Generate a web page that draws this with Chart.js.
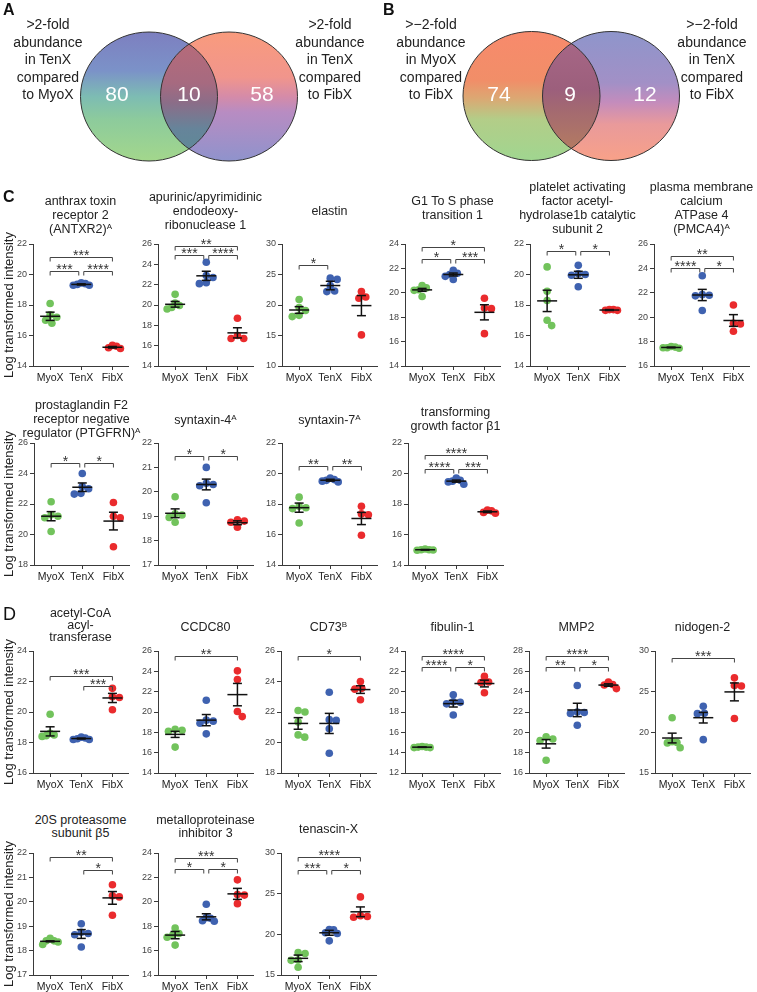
<!DOCTYPE html>
<html><head><meta charset="utf-8">
<script src="https://cdn.jsdelivr.net/npm/chart.js@4.4.1/dist/chart.umd.min.js"></script>
<style>
html,body{margin:0;padding:0;background:#fff}
body{width:757px;height:992px;overflow:hidden;position:relative;font-family:'Liberation Sans',Arial,Helvetica,sans-serif;color:#222}
canvas{position:absolute}
.title{position:absolute;text-align:center;font-size:12.5px;white-space:nowrap;color:#222}
.letter{position:absolute;font-weight:bold;font-size:16px;line-height:16px;color:#111}
.vlab{position:absolute;text-align:center;font-size:14px;line-height:17.5px;white-space:nowrap;color:#222;width:100px}
.vnum{position:absolute;text-align:center;font-size:21px;line-height:21px;color:#fff;width:40px}
.ytitle{position:absolute;width:200px;text-align:center;font-size:13px;line-height:16px;white-space:nowrap;transform:rotate(-90deg);color:#222}
sup{font-size:8px;line-height:0;vertical-align:4px}
</style></head><body>
<script>
// ---------------- DATA ----------------
const categories = ['MyoX', 'TenX', 'FibX'];

// Venn diagrams
const vennACounts = [80, 10, 58];
const vennBCounts = [74, 9, 12];
const vennALeftLabel = ['>2-fold', 'abundance', 'in TenX', 'compared', 'to MyoX'];
const vennARightLabel = ['>2-fold', 'abundance', 'in TenX', 'compared', 'to FibX'];
const vennBLeftLabel = ['>\u22122-fold', 'abundance', 'in MyoX', 'compared', 'to FibX'];
const vennBRightLabel = ['>\u22122-fold', 'abundance', 'in TenX', 'compared', 'to FibX'];

// Panel C
const antxr2 = [[18.1, 17.35, 17.2, 17.0, 16.8], [19.45, 19.4, 19.35, 19.3, 19.3], [15.35, 15.3, 15.2, 15.15]];
const antxr2Mean = [17.26, 19.35, 15.23];
const antxr2Sem = [0.27, 0.04, 0.05];
const antxr2Sig = [[0, 2, '***', 21.16], [0, 1, '***', 20.22], [1, 2, '****', 20.22]];
const antxr2Ticks = [14, 16, 18, 20, 22];

const apex1 = [[21.05, 20.2, 19.95, 19.75, 19.6], [24.2, 22.9, 22.7, 22.1, 22.2], [18.7, 17.0, 16.7, 16.7]];
const apex1Mean = [20.07, 22.87, 17.26];
const apex1Sem = [0.28, 0.45, 0.5];
const apex1Sig = [[0, 2, '**', 25.77], [0, 1, '***', 24.94], [1, 2, '****', 24.94]];
const apex1Ticks = [14, 16, 18, 20, 22, 24, 26];

const elastin = [[20.9, 19.6, 19.1, 18.3, 18.1], [24.4, 24.2, 23.2, 22.3, 22.2], [22.2, 21.3, 21.1, 15.1]];
const elastinMean = [19.18, 23.19, 19.9];
const elastinSem = [0.55, 0.7, 1.65];
const elastinSig = [[0, 1, '*', 26.6]];
const elastinTicks = [10, 15, 20, 25, 30];

const g1s = [[20.6, 20.4, 20.25, 20.2, 19.7], [21.85, 21.6, 21.5, 21.35, 21.1], [19.55, 18.75, 18.7, 16.65]];
const g1sMean = [20.24, 21.5, 18.4];
const g1sSem = [0.12, 0.12, 0.62];
const g1sSig = [[0, 2, '*', 23.75], [0, 1, '*', 22.76], [1, 2, '***', 22.76]];
const g1sTicks = [14, 16, 18, 20, 22, 24];

const pafah = [[20.5, 18.9, 18.3, 17.0, 16.65], [20.6, 20.05, 20.0, 19.95, 19.2], [17.7, 17.65, 17.65, 17.7]];
const pafahMean = [18.27, 19.98, 17.67];
const pafahSem = [0.7, 0.23, 0.03];
const pafahSig = [[0, 1, '*', 21.52], [1, 2, '*', 21.52]];
const pafahTicks = [14, 16, 18, 20, 22];

const pmca4 = [[17.6, 17.55, 17.5, 17.5, 17.45], [23.4, 21.85, 21.8, 21.75, 20.55], [21.0, 19.5, 19.45, 18.85]];
const pmca4Mean = [17.52, 21.82, 19.73];
const pmca4Sem = [0.03, 0.46, 0.48];
const pmca4Sig = [[0, 2, '**', 25.04], [0, 1, '****', 24.02], [1, 2, '*', 24.02]];
const pmca4Ticks = [16, 18, 20, 22, 24, 26];

const ptgfrn = [[22.15, 21.3, 21.2, 21.1, 20.2], [24.0, 23.15, 23.0, 22.7, 22.65], [22.1, 21.2, 21.1, 19.2]];
const ptgfrnMean = [21.2, 23.1, 20.88];
const ptgfrnSem = [0.3, 0.28, 0.58];
const ptgfrnSig = [[0, 1, '*', 24.68], [1, 2, '*', 24.68]];
const ptgfrnTicks = [18, 20, 22, 24, 26];

const stx4 = [[19.8, 19.1, 19.05, 18.95, 18.75], [21.0, 20.35, 20.3, 20.25, 19.55], [18.85, 18.8, 18.75, 18.55]];
const stx4Mean = [19.12, 20.3, 18.73];
const stx4Sem = [0.18, 0.22, 0.08];
const stx4Sig = [[0, 1, '*', 21.48], [1, 2, '*', 21.48]];
const stx4Ticks = [17, 18, 19, 20, 21, 22];

const stx7 = [[18.45, 17.85, 17.75, 17.7, 16.75], [19.7, 19.6, 19.55, 19.5, 19.45], [17.85, 17.35, 17.3, 15.95]];
const stx7Mean = [17.76, 19.56, 17.05];
const stx7Sem = [0.3, 0.06, 0.4];
const stx7Sig = [[0, 1, '**', 20.46], [1, 2, '**', 20.46]];
const stx7Ticks = [14, 16, 18, 20, 22];

const tgfb1 = [[15.05, 15.0, 15.0, 14.98, 14.97], [19.7, 19.55, 19.5, 19.45, 19.3], [17.6, 17.55, 17.45, 17.4]];
const tgfb1Mean = [15.0, 19.5, 17.49];
const tgfb1Sem = [0.02, 0.07, 0.05];
const tgfb1Sig = [[0, 2, '****', 21.23], [0, 1, '****', 20.29], [1, 2, '***', 20.29]];
const tgfb1Ticks = [14, 16, 18, 20, 22];

// Panel D
const acaa = [[19.85, 18.6, 18.5, 18.45, 18.4], [18.35, 18.3, 18.25, 18.2, 18.2], [21.55, 21.0, 20.95, 20.15]];
const acaaMean = [18.73, 18.26, 20.92];
const acaaSem = [0.3, 0.03, 0.3];
const acaaSig = [[0, 2, '***', 22.35], [1, 2, '***', 21.69]];
const acaaTicks = [16, 18, 20, 22, 24];

const ccdc80 = [[18.3, 18.2, 18.1, 16.55], [21.15, 19.2, 19.1, 18.9, 17.85], [24.05, 23.2, 20.05, 19.55]];
const ccdc80Mean = [17.8, 19.2, 21.71];
const ccdc80Sem = [0.3, 0.55, 1.1];
const ccdc80Sig = [[0, 2, '**', 25.5]];
const ccdc80Ticks = [14, 16, 18, 20, 22, 24, 26];

const cd73 = [[22.1, 22.0, 21.35, 20.5, 20.35], [23.3, 21.5, 21.45, 20.9, 19.3], [24.0, 23.55, 23.5, 22.8]];
const cd73Mean = [21.25, 21.25, 23.47];
const cd73Sem = [0.38, 0.66, 0.25];
const cd73Sig = [[0, 2, '*', 25.67]];
const cd73Ticks = [18, 20, 22, 24, 26];

const fbln1 = [[14.6, 14.55, 14.55, 14.5, 14.5], [19.7, 19.0, 18.95, 18.8, 17.7], [21.5, 20.95, 20.9, 19.9]];
const fbln1Mean = [14.54, 18.82, 20.8];
const fbln1Sem = [0.02, 0.33, 0.33];
const fbln1Sig = [[0, 2, '****', 23.5], [0, 1, '****', 22.45], [1, 2, '*', 22.45]];
const fbln1Ticks = [12, 14, 16, 18, 20, 22, 24];

const mmp2 = [[19.55, 19.35, 19.2, 17.25], [24.6, 22.0, 21.95, 21.85, 20.7], [24.95, 24.7, 24.65, 24.3]];
const mmp2Mean = [18.87, 22.2, 24.65];
const mmp2Sem = [0.42, 0.66, 0.12];
const mmp2Sig = [[0, 2, '****', 27.5], [0, 1, '**', 26.45], [1, 2, '*', 26.45]];
const mmp2Ticks = [16, 18, 20, 22, 24, 26, 28];

const nid2 = [[21.8, 18.85, 18.75, 18.7, 18.1], [23.2, 22.35, 22.3, 19.1], [26.7, 25.75, 25.7, 21.7]];
const nid2Mean = [19.3, 21.8, 24.97];
const nid2Sem = [0.6, 0.65, 1.1];
const nid2Sig = [[0, 2, '***', 29.18]];
const nid2Ticks = [15, 20, 25, 30];

const psmb5 = [[18.5, 18.4, 18.4, 18.35, 18.25], [19.1, 18.75, 18.7, 18.65, 18.15], [20.7, 20.25, 20.2, 19.45]];
const psmb5Mean = [18.38, 18.68, 20.16];
const psmb5Sem = [0.02, 0.18, 0.26];
const psmb5Sig = [[0, 2, '**', 21.84], [1, 2, '*', 21.32]];
const psmb5Ticks = [17, 18, 19, 20, 21, 22];

const timp3 = [[17.85, 17.4, 17.3, 17.1, 16.45], [19.8, 18.7, 18.65, 18.45, 18.4], [21.8, 20.6, 20.55, 19.85]];
const timp3Mean = [17.27, 18.77, 20.65];
const timp3Sem = [0.3, 0.25, 0.45];
const timp3Sig = [[0, 2, '***', 23.62], [0, 1, '*', 22.72], [1, 2, '*', 22.72]];
const timp3Ticks = [14, 16, 18, 20, 22, 24];

const tnxb = [[17.75, 17.65, 16.85, 16.8, 15.95], [20.6, 20.55, 20.2, 20.1, 19.2], [24.6, 22.3, 22.2, 22.1]];
const tnxbMean = [17.05, 20.19, 22.77];
const tnxbSem = [0.4, 0.3, 0.6];
const tnxbSig = [[0, 2, '****', 29.51], [0, 1, '***', 27.87], [1, 2, '*', 27.87]];
const tnxbTicks = [15, 20, 25, 30];

// ---------------- LAYOUT / STYLE ----------------
const FONT = "'Liberation Sans', Arial, Helvetica, sans-serif";
Chart.defaults.font.family = FONT;
const GROUP_COLORS = ['#72c35c', '#3f62b0', '#ea2b2d'];
const PLOT_W = 95, PLOT_H = 122, PAD_TOP = 12, YAX_W = 30, XAX_H = 20, PAD_R = 6;

const plots = [
  {v: antxr2, m: antxr2Mean, s: antxr2Sem, sig: antxr2Sig, t: antxr2Ticks, title: ['anthrax toxin', 'receptor 2', '(ANTXR2)<sup>A</sup>'], ax: 33, top: 244, ty: 201, lh: 14},
  {v: apex1, m: apex1Mean, s: apex1Sem, sig: apex1Sig, t: apex1Ticks, title: ['apurinic/apyrimidinic', 'endodeoxy-', 'ribonuclease 1'], ax: 158, top: 244, ty: 197, lh: 14},
  {v: elastin, m: elastinMean, s: elastinSem, sig: elastinSig, t: elastinTicks, title: ['elastin'], ax: 282, top: 244, ty: 211, lh: 14},
  {v: g1s, m: g1sMean, s: g1sSem, sig: g1sSig, t: g1sTicks, title: ['G1 To S phase', 'transition 1'], ax: 405, top: 244, ty: 201, lh: 14},
  {v: pafah, m: pafahMean, s: pafahSem, sig: pafahSig, t: pafahTicks, title: ['platelet activating', 'factor acetyl-', 'hydrolase1b catalytic', 'subunit 2'], ax: 530, top: 244, ty: 187, lh: 14},
  {v: pmca4, m: pmca4Mean, s: pmca4Sem, sig: pmca4Sig, t: pmca4Ticks, title: ['plasma membrane', 'calcium', 'ATPase 4', '(PMCA4)<sup>A</sup>'], ax: 654, top: 244, ty: 187, lh: 14},
  {v: ptgfrn, m: ptgfrnMean, s: ptgfrnSem, sig: ptgfrnSig, t: ptgfrnTicks, title: ['prostaglandin F2', 'receptor negative', 'regulator (PTGFRN)<sup>A</sup>'], ax: 34, top: 443, ty: 405, lh: 14},
  {v: stx4, m: stx4Mean, s: stx4Sem, sig: stx4Sig, t: stx4Ticks, title: ['syntaxin-4<sup>A</sup>'], ax: 158, top: 443, ty: 420, lh: 14},
  {v: stx7, m: stx7Mean, s: stx7Sem, sig: stx7Sig, t: stx7Ticks, title: ['syntaxin-7<sup>A</sup>'], ax: 282, top: 443, ty: 420, lh: 14},
  {v: tgfb1, m: tgfb1Mean, s: tgfb1Sem, sig: tgfb1Sig, t: tgfb1Ticks, title: ['transforming', 'growth factor \u03b21'], ax: 408, top: 443, ty: 412, lh: 14},
  {v: acaa, m: acaaMean, s: acaaSem, sig: acaaSig, t: acaaTicks, title: ['acetyl-CoA', 'acyl-', 'transferase'], ax: 33, top: 651, ty: 613, lh: 12},
  {v: ccdc80, m: ccdc80Mean, s: ccdc80Sem, sig: ccdc80Sig, t: ccdc80Ticks, title: ['CCDC80'], ax: 158, top: 651, ty: 627, lh: 14},
  {v: cd73, m: cd73Mean, s: cd73Sem, sig: cd73Sig, t: cd73Ticks, title: ['CD73<sup>B</sup>'], ax: 281, top: 651, ty: 627, lh: 14},
  {v: fbln1, m: fbln1Mean, s: fbln1Sem, sig: fbln1Sig, t: fbln1Ticks, title: ['fibulin-1'], ax: 405, top: 651, ty: 627, lh: 14},
  {v: mmp2, m: mmp2Mean, s: mmp2Sem, sig: mmp2Sig, t: mmp2Ticks, title: ['MMP2'], ax: 529, top: 651, ty: 627, lh: 14},
  {v: nid2, m: nid2Mean, s: nid2Sem, sig: nid2Sig, t: nid2Ticks, title: ['nidogen-2'], ax: 655, top: 651, ty: 627, lh: 14},
  {v: psmb5, m: psmb5Mean, s: psmb5Sem, sig: psmb5Sig, t: psmb5Ticks, title: ['20S proteasome', 'subunit \u03b25'], ax: 33, top: 853, ty: 820, lh: 13},
  {v: timp3, m: timp3Mean, s: timp3Sem, sig: timp3Sig, t: timp3Ticks, title: ['metalloproteinase', 'inhibitor 3'], ax: 158, top: 853, ty: 820, lh: 13},
  {v: tnxb, m: tnxbMean, s: tnxbSem, sig: tnxbSig, t: tnxbTicks, title: ['tenascin-X'], ax: 281, top: 853, ty: 829, lh: 14}
];

function addDiv(cls, html, left, top, extra) {
  const d = document.createElement('div');
  d.className = cls; d.innerHTML = html;
  d.style.left = left + 'px'; d.style.top = top + 'px';
  if (extra) Object.assign(d.style, extra);
  document.body.appendChild(d);
  return d;
}

// ---------------- PLUGINS ----------------
const errPlugin = {
  id: 'errbars',
  afterDatasetsDraw(chart) {
    const spec = chart.$spec; if (!spec) return;
    const ctx = chart.ctx, x = chart.scales.x, y = chart.scales.y;
    const seg = (a, b, c, d) => { ctx.beginPath(); ctx.moveTo(a, b); ctx.lineTo(c, d); ctx.stroke(); };
    ctx.save();
    ctx.strokeStyle = '#111'; ctx.lineWidth = 1.5; ctx.lineCap = 'butt';
    spec.m.forEach((m, g) => {
      const cx = x.getPixelForValue(g + 1);
      const ym = y.getPixelForValue(m), yt = y.getPixelForValue(m + spec.s[g]), yb = y.getPixelForValue(m - spec.s[g]);
      seg(cx - 10, ym, cx + 10, ym);
      seg(cx, yt, cx, yb);
      seg(cx - 4.5, yt, cx + 4.5, yt);
      seg(cx - 4.5, yb, cx + 4.5, yb);
    });
    ctx.strokeStyle = '#444'; ctx.lineWidth = 1; ctx.fillStyle = '#333';
    ctx.font = '14px ' + FONT; ctx.textAlign = 'center'; ctx.textBaseline = 'alphabetic';
    spec.sig.forEach(([a, b, stars, level]) => {
      let x1 = x.getPixelForValue(a + 1), x2 = x.getPixelForValue(b + 1);
      if (a === 1) x1 += 2.5;
      if (b === 1) x2 -= 2.5;
      const yl = Math.round(y.getPixelForValue(level)) + 0.5;
      ctx.beginPath(); ctx.moveTo(x1, yl + 4); ctx.lineTo(x1, yl); ctx.lineTo(x2, yl); ctx.lineTo(x2, yl + 4); ctx.stroke();
      ctx.fillText(stars, (x1 + x2) / 2, yl + 2.5);
    });
    ctx.restore();
  }
};

function swarm(chart, spec) {
  const x = chart.scales.x, y = chart.scales.y;
  const pxPerX = x.getPixelForValue(2) - x.getPixelForValue(1);
  const D = 7, LIM = 8;
  chart.data.datasets.forEach((ds, g) => {
    const vals = spec.v[g];
    const placed = [];
    const offs = new Array(vals.length).fill(0);
    const order = vals.map((v, i) => i).sort((a, b) => vals[b] - vals[a]);
    order.forEach(i => {
      const py = y.getPixelForValue(vals[i]);
      const cands = [0];
      placed.forEach(p => {
        const dy = Math.abs(p.py - py);
        if (dy < D) { const w = Math.sqrt(D * D - dy * dy); cands.push(p.dx + w, p.dx - w); }
      });
      cands.sort((a, b) => (Math.abs(a) - Math.abs(b)) || (b - a));
      let best = 0;
      for (const c of cands) {
        if (placed.every(p => Math.hypot(p.dx - c, p.py - py) >= D - 0.01)) { best = c; break; }
      }
      placed.push({dx: best, py}); offs[i] = best;
    });
    const maxOff = Math.max(...offs.map(Math.abs));
    const f = maxOff > LIM ? LIM / maxOff : 1;
    ds.data = vals.map((v, i) => ({x: g + 1 + offs[i] * f / pxPerX, y: v}));
  });
  chart.update('none');
}

function makePlot(spec) {
  const W = YAX_W + PLOT_W + PAD_R, H = PAD_TOP + PLOT_H + XAX_H;
  const cv = document.createElement('canvas');
  cv.width = W; cv.height = H;
  cv.style.width = W + 'px'; cv.style.height = H + 'px';
  cv.style.left = (spec.ax - YAX_W) + 'px'; cv.style.top = (spec.top - PAD_TOP) + 'px';
  document.body.appendChild(cv);
  const datasets = spec.v.map((vals, g) => ({
    data: vals.map(v => ({x: g + 1, y: v})),
    backgroundColor: GROUP_COLORS[g], borderWidth: 0, pointRadius: 3.8, pointHoverRadius: 3.8
  }));
  const gridOpts = {display: true, drawOnChartArea: false, drawTicks: true, tickLength: 4, color: '#3a3a3a', lineWidth: 1};
  const borderOpts = {display: true, color: '#3a3a3a', width: 1};
  const chart = new Chart(cv, {
    type: 'scatter',
    data: {datasets},
    options: {
      responsive: false, animation: false, devicePixelRatio: 1, events: [],
      layout: {padding: {top: PAD_TOP, left: 0, right: PAD_R, bottom: 0}},
      plugins: {legend: {display: false}, tooltip: {enabled: false}, title: {display: false}},
      scales: {
        x: {
          type: 'linear', min: 0.45, max: 3.5,
          afterBuildTicks: s => { s.ticks = categories.map((c, i) => ({value: i + 1})); },
          ticks: {callback: v => categories[Math.round(v) - 1], font: {size: 10.5, family: FONT}, color: '#222', padding: 2, maxRotation: 0, autoSkip: false},
          grid: gridOpts, border: borderOpts,
          afterFit: s => { s.height = XAX_H; }
        },
        y: {
          type: 'linear', min: spec.t[0], max: spec.t[spec.t.length - 1],
          afterBuildTicks: s => { s.ticks = spec.t.map(v => ({value: v})); },
          ticks: {font: {size: 9, family: FONT}, color: '#444', padding: 2},
          grid: gridOpts, border: borderOpts,
          afterFit: s => { s.width = YAX_W; }
        }
      }
    },
    plugins: [errPlugin]
  });
  chart.$spec = spec;
  swarm(chart, spec);
  // title
  addDiv('title', spec.title.join('<br>'), spec.ax + PLOT_W / 2 - 90, spec.ty - spec.lh / 2, {width: '180px', lineHeight: spec.lh + 'px'});
}

// ---------------- VENN ----------------
const vennGeom = {
  A: {l: [149, 96.5], r: [229, 96.5], rx: 68.5, ry: 64.5},
  B: {l: [531.5, 96], r: [611, 96], rx: 68.5, ry: 64.5}
};
const vennFills = {
  A: {
    l: [[0, '#7d7fc0'], [0.3, '#7b92c8'], [0.5, '#7dbcb3'], [0.68, '#8dcb9c'], [1, '#a3d78c']],
    r: [[0, '#f99b7d'], [0.35, '#f1958c'], [0.5, '#d58ba8'], [0.62, '#b88cc2'], [1, '#8f93cc']],
    i: [[0, '#bb6b78'], [0.4, '#a66a80'], [0.55, '#8b6d88'], [0.75, '#66849a'], [1, '#5c8c96']]
  },
  B: {
    l: [[0, '#f88a6c'], [0.38, '#f18e68'], [0.52, '#dba873'], [0.68, '#b3cd88'], [1, '#a0d690']],
    r: [[0, '#8e95cb'], [0.4, '#a290c6'], [0.55, '#c48cbc'], [0.72, '#e99a9b'], [1, '#f8a188']],
    i: [[0, '#a96888'], [0.45, '#9c5f7c'], [0.62, '#a46a70'], [1, '#b8805e']]
  }
};
const vennPlugin = {
  id: 'venn',
  afterDraw(chart) {
    const ctx = chart.ctx, X = chart.scales.x, Y = chart.scales.y;
    const ell = (c, g) => { ctx.beginPath(); ctx.ellipse(X.getPixelForValue(c[0]), Y.getPixelForValue(c[1]), g.rx, g.ry, 0, 0, Math.PI * 2); };
    const grad = (c, g, stops) => {
      const cy = Y.getPixelForValue(c[1]);
      const gr = ctx.createLinearGradient(0, cy - g.ry, 0, cy + g.ry);
      stops.forEach(s => gr.addColorStop(s[0], s[1])); return gr;
    };
    ['A', 'B'].forEach(k => {
      const g = vennGeom[k], f = vennFills[k];
      ctx.save();
      ell(g.l, g); ctx.fillStyle = grad(g.l, g, f.l); ctx.fill();
      ell(g.r, g); ctx.fillStyle = grad(g.r, g, f.r); ctx.fill();
      ctx.save(); ell(g.l, g); ctx.clip();
      ell(g.r, g); ctx.fillStyle = grad(g.r, g, f.i); ctx.fill();
      ctx.restore();
      ctx.strokeStyle = '#333'; ctx.lineWidth = 1;
      ell(g.l, g); ctx.stroke(); ell(g.r, g); ctx.stroke();
      ctx.restore();
    });
  }
};
(function makeVenn() {
  const cv = document.createElement('canvas');
  cv.width = 757; cv.height = 185; cv.style.width = '757px'; cv.style.height = '185px';
  cv.style.left = '0px'; cv.style.top = '0px';
  document.body.appendChild(cv);
  new Chart(cv, {
    type: 'scatter', data: {datasets: []},
    options: {
      responsive: false, animation: false, devicePixelRatio: 1, events: [],
      layout: {padding: 0},
      plugins: {legend: {display: false}, tooltip: {enabled: false}},
      scales: {x: {type: 'linear', display: false, min: 0, max: 757}, y: {type: 'linear', display: false, min: 0, max: 185, reverse: true}}
    },
    plugins: [vennPlugin]
  });
  const labs = [[vennALeftLabel, 48], [vennARightLabel, 330], [vennBLeftLabel, 431], [vennBRightLabel, 712]];
  labs.forEach(([lines, cx]) => addDiv('vlab', lines.join('<br>'), cx - 50, 25 - 8.75));
  const numsA = [117, 189, 262], numsB = [499, 570, 645];
  vennACounts.forEach((c, i) => addDiv('vnum', String(c), numsA[i] - 20, 93 - 10.5));
  vennBCounts.forEach((c, i) => addDiv('vnum', String(c), numsB[i] - 20, 93 - 10.5));
})();

// ---------------- BUILD ----------------
plots.forEach(makePlot);

// panel letters
addDiv('letter', 'A', 3, 2);
addDiv('letter', 'B', 383, 2);
addDiv('letter', 'C', 3, 189);
addDiv('letter', 'D', 3, 605, {fontSize: '18px', lineHeight: '18px', fontWeight: 'normal'});

// shared y-axis titles
[305, 504, 712, 914].forEach(cy => addDiv('ytitle', 'Log transformed intensity', 9 - 100, cy - 8));
</script>
</body></html>
